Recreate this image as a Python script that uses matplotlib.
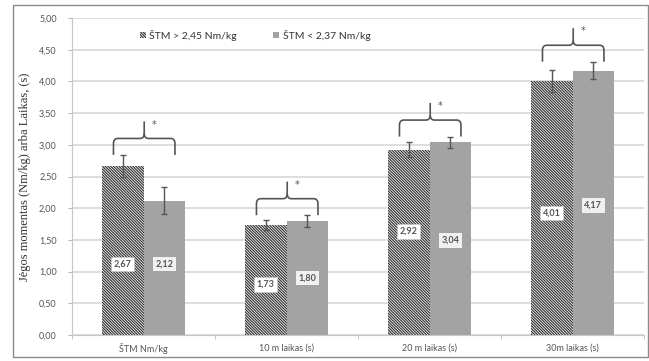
import matplotlib
matplotlib.use("Agg")
import matplotlib.pyplot as plt
import numpy as np
from matplotlib.patches import Rectangle, Patch
from matplotlib.path import Path
from matplotlib.patches import PathPatch

categories = ["ŠTM Nm/kg", "10 m laikas (s)", "20 m laikas (s)", "30m laikas (s)"]
series_names = ["ŠTM > 2,45 Nm/kg", "ŠTM < 2,37 Nm/kg"]
high_vals = [2.67, 1.73, 2.92, 4.01]
low_vals = [2.12, 1.80, 3.04, 4.17]
high_err = [0.17, 0.08, 0.12, 0.17]
low_err = [0.21, 0.09, 0.09, 0.14]
high_labels = ["2,67", "1,73", "2,92", "4,01"]
low_labels = ["2,12", "1,80", "3,04", "4,17"]
yticks = [0, 0.5, 1, 1.5, 2, 2.5, 3, 3.5, 4, 4.5, 5]
ytick_labels = ["0,00", "0,50", "1,00", "1,50", "2,00", "2,50", "3,00", "3,50", "4,00", "4,50", "5,00"]

# label placement fractions (of bar height)
high_lab_frac = [0.42, 0.46, 0.56, 0.48]
low_lab_frac = [0.53, 0.50, 0.49, 0.49]

W, H = 649, 361
fig = plt.figure(figsize=(W / 100, H / 100), dpi=100)
ax = fig.add_axes([72 / W, (H - 335) / H, (644 - 72) / W, (335 - 18) / H])

plt.rcParams['hatch.linewidth'] = 0.85
plt.rcParams['hatch.color'] = '#333333'

x = np.arange(len(categories))
bw = 0.29
hatch_col = '#333333'
gray_col = '#a3a3a3'
HATCH = '\\' * 12

ax.bar(x - bw / 2, high_vals, bw, color='white', edgecolor=hatch_col, hatch=HATCH, linewidth=0, zorder=3)
ax.bar(x + bw / 2, low_vals, bw, color=gray_col, linewidth=0, zorder=3)
ax.errorbar(x - bw / 2, high_vals, yerr=high_err, fmt='none', ecolor='#555555', elinewidth=1, capsize=2, capthick=1, zorder=4)
ax.errorbar(x + bw / 2, low_vals, yerr=low_err, fmt='none', ecolor='#555555', elinewidth=1, capsize=2, capthick=1, zorder=4)

lab_font = dict(family='Lato', size=6.5, weight='bold', color='#555555', ha='center', va='center', zorder=5)
for i in range(len(categories)):
    ax.text(x[i] - bw / 2, high_vals[i] * high_lab_frac[i], high_labels[i],
            bbox=dict(boxstyle='square,pad=0.3', fc='white', ec='#cccccc', lw=0.6, ls=':'), **lab_font)
    ax.text(x[i] + bw / 2, low_vals[i] * low_lab_frac[i], low_labels[i],
            bbox=dict(boxstyle='square,pad=0.3', fc='#f0f0f0', ec='none'), **lab_font)

# braces with asterisks
for i in range(len(categories)):
    top = max(high_vals[i] + high_err[i], low_vals[i] + low_err[i])
    y0 = top - 0.0
    yh = y0 + 0.26
    ys = yh + 0.27
    xl = x[i] - 0.21
    xr = x[i] + 0.22
    xc = (xl + xr) / 2
    r = 0.03
    ry = 0.08
    verts = [(xl, y0), (xl, yh - ry), (xl, yh), (xl + r, yh),
             (xc - r, yh), (xc, yh), (xc, yh + ry), (xc, ys)]
    codes = [Path.MOVETO, Path.LINETO, Path.CURVE3, Path.CURVE3,
             Path.LINETO, Path.CURVE3, Path.CURVE3, Path.LINETO]
    ax.add_patch(PathPatch(Path(verts, codes), fc='none', ec='#555555', lw=1.2, zorder=4))
    verts = [(xr, y0), (xr, yh - ry), (xr, yh), (xr - r, yh),
             (xc + r, yh), (xc, yh), (xc, yh + ry)]
    codes = [Path.MOVETO, Path.LINETO, Path.CURVE3, Path.CURVE3,
             Path.LINETO, Path.CURVE3, Path.CURVE3]
    ax.add_patch(PathPatch(Path(verts, codes), fc='none', ec='#555555', lw=1.2, zorder=4))
    ax.text(xc + 0.07, ys - 0.05, "*", fontsize=7, color='#555555', ha='center', va='center', zorder=5)

ax.set_xlim(-0.5, len(categories) - 0.5)
ax.set_ylim(0, 5)
ax.set_yticks(yticks)
ax.set_yticklabels(ytick_labels, family='Lato', fontsize=6.5, color='#555555')
ax.set_xticks(x)
ax.set_xticklabels(categories, family='Lato', fontsize=6.5, color='#555555')
ax.tick_params(axis='x', length=0, pad=6)
ax.tick_params(axis='y', length=3, color='#bbbbbb', pad=8)
ax.set_xticks(np.arange(-0.5, len(categories), 1.0), minor=True)
ax.tick_params(axis='x', which='minor', length=3, color='#bbbbbb')
ax.grid(axis='y', color='#ddd5d5', linewidth=1.2, zorder=0)
ax.set_axisbelow(True)
for s in ['top', 'right']:
    ax.spines[s].set_visible(False)
ax.spines['left'].set_color('#c8c8c8')
ax.spines['bottom'].set_color('#c8c8c8')

ax.set_ylabel("Jėgos momentas (Nm/kg) arba Laikas, (s)", family='Liberation Serif', fontsize=9, color='#333333', labelpad=6)

handles = [Patch(facecolor='white', edgecolor=hatch_col, hatch=HATCH, linewidth=0, label=series_names[0]),
           Patch(facecolor=gray_col, linewidth=0, label=series_names[1])]
leg = ax.legend(handles=handles, ncol=2, loc='center', bbox_to_anchor=(0.32, 0.946), frameon=False,
                handlelength=0.6, handleheight=0.6, handletextpad=0.3, columnspacing=3.5,
                prop=dict(family='Lato', size=7.5))
for t in leg.get_texts():
    t.set_color('#333333')

fig.patches.append(Rectangle((13 / W, 4 / H), (648 - 13) / W, (356 - 4) / H, transform=fig.transFigure,
                             fill=False, ec='#8a8a8a', lw=1.0))

fig.savefig("out.png", dpi=100)
